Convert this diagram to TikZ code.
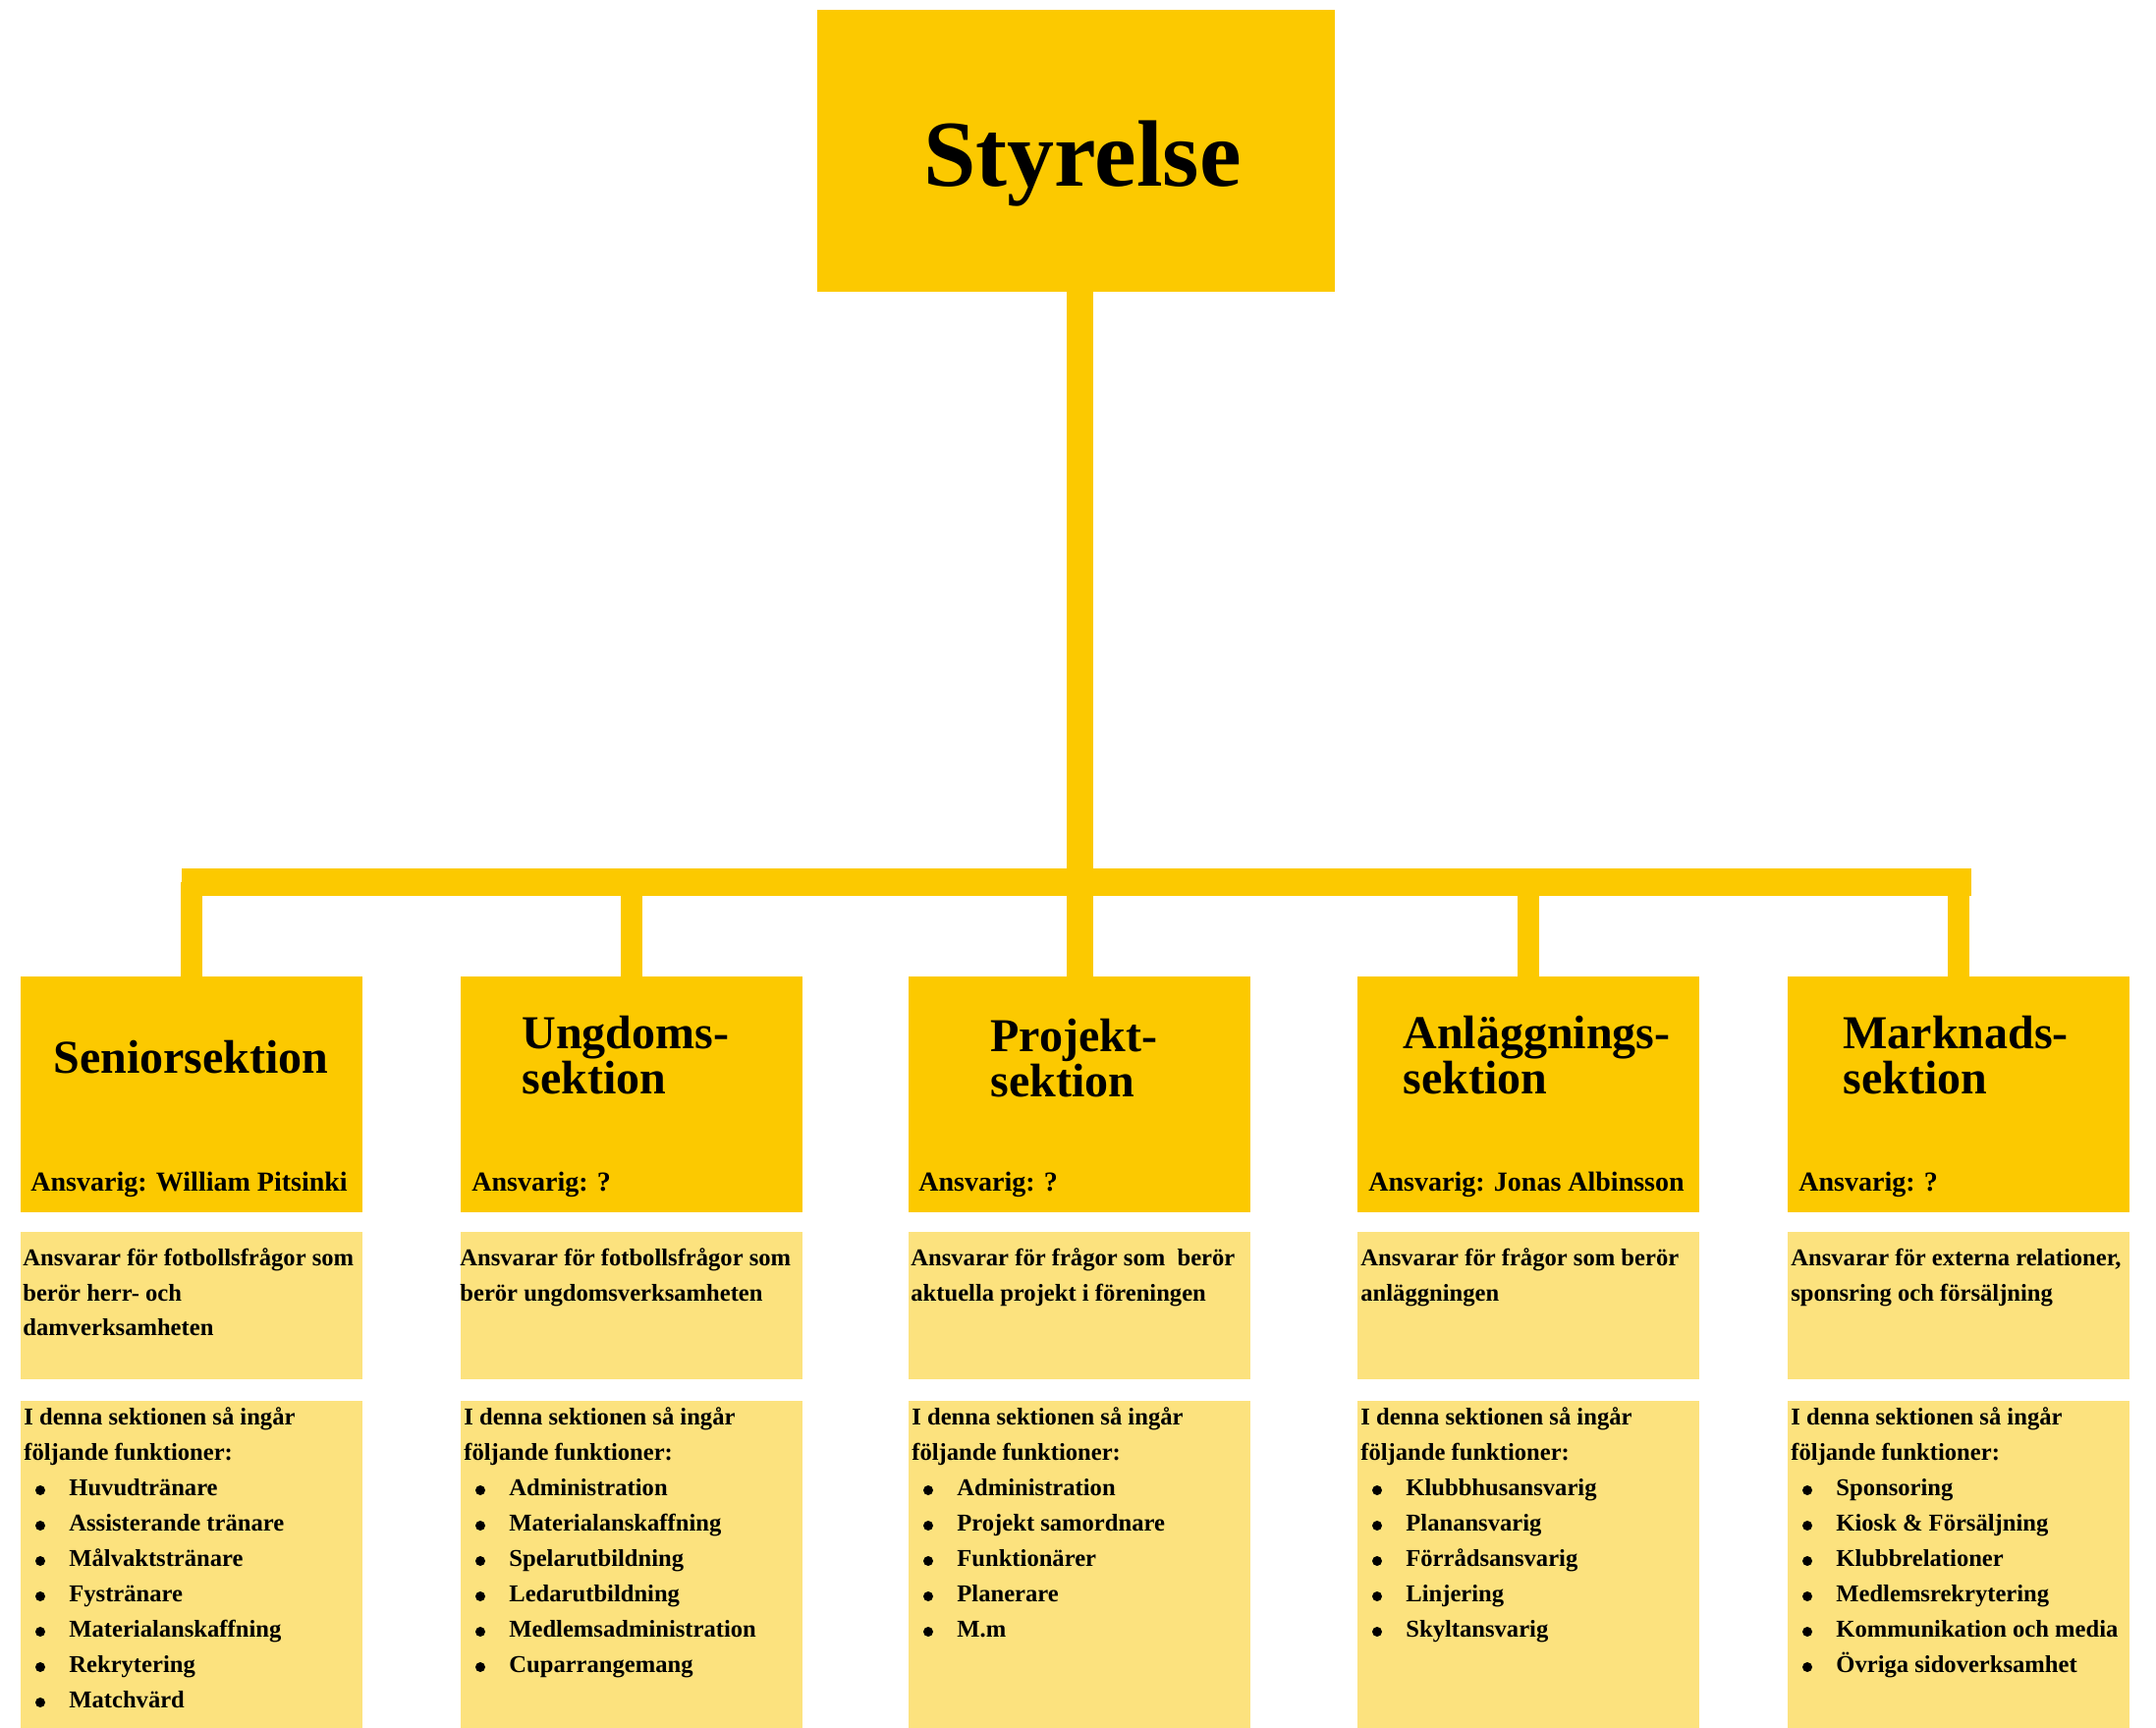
\documentclass[tikz,border=0pt]{standalone}
\usepackage{fontspec}
\setmainfont{Liberation Serif}
\definecolor{hdr}{RGB}{252,201,0}
\definecolor{lgt}{RGB}{252,226,126}
\begin{document}
\begin{tikzpicture}[x=0.5pt,y=-0.5pt,
  boxbase/.style={draw=none,inner sep=0pt,outer sep=0pt,anchor=north west,minimum width=174pt},
  hdrbox/.style={boxbase,fill=hdr,minimum height=120pt},
  descbox/.style={boxbase,fill=lgt,minimum height=75pt},
  listbox/.style={boxbase,fill=lgt,minimum height=166.5pt},
  topbox/.style={draw=none,fill=hdr,inner sep=0pt,outer sep=0pt,anchor=north west,minimum width=263.5pt,minimum height=143.5pt},
  toptxt/.style={anchor=base west,inner sep=0pt,font=\fontsize{48}{52}\selectfont\bfseries},
  ttl/.style={anchor=base west,inner sep=0pt,font=\fontsize{24}{23}\selectfont\bfseries},
  ans/.style={anchor=base west,inner sep=0pt,font=\fontsize{14}{16}\selectfont\bfseries},
  txt/.style={anchor=base west,inner sep=0pt,font=\fontsize{12.3}{18}\selectfont\bfseries},
  dot/.style={circle,fill=black,draw=none,inner sep=0pt,minimum size=5pt},
  barline/.style={draw=hdr,line width=14pt,line cap=butt},
  stemline/.style={draw=hdr,line width=13.5pt,line cap=butt},
  dropline/.style={draw=hdr,line width=11pt,line cap=butt}]
\fill[white] (0,0) rectangle (2195,1759);
\useasboundingbox (0,0) rectangle (2195,1759);

% top box
\node[topbox] (sty) at (832,10) {};
\node[toptxt] (stytxt) at (940,190) {Styrelse};

% section boxes
\foreach \i/\L in {1/21,2/469,3/925,4/1382,5/1820}{
  \node[hdrbox] (s\i) at (\L,994) {};
  \node[descbox] (d\i) at (\L,1254) {};
  \node[listbox] (l\i) at (\L,1426) {};
}

% connectors
\coordinate (barL) at (185,898);
\coordinate (barR) at (2007,898);
\draw[barline] (barL) -- (barR);
\draw[stemline] (s3.north |- sty.south) -- (s3.north);
\foreach \i in {1,2,4,5}{
  \draw[dropline] (s\i.north) -- (s\i.north |- barL);
}

% titles
\node[ttl] (t1) at (54,1092) {Seniorsektion};
\node[ttl] (t2a) at (531,1067) {Ungdoms-};
\node[ttl] (t2b) at (531,1113) {sektion};
\node[ttl] (t3a) at (1008,1070) {Projekt-};
\node[ttl] (t3b) at (1008,1116) {sektion};
\node[ttl] (t4a) at (1428,1067) {Anläggnings-};
\node[ttl] (t4b) at (1428,1113) {sektion};
\node[ttl] (t5a) at (1876,1067) {Marknads-};
\node[ttl] (t5b) at (1876,1113) {sektion};

% responsible
\node[ans] (a1) at (31,1212) {Ansvarig: William Pitsinki};
\node[ans] (a2) at (480,1212) {Ansvarig: ?};
\node[ans] (a3) at (935,1212) {Ansvarig: ?};
\node[ans] (a4) at (1393,1212) {Ansvarig: Jonas Albinsson};
\node[ans] (a5) at (1831,1212) {Ansvarig: ?};

% descriptions
\node[txt] (e1a) at (23,1288) {Ansvarar för fotbollsfrågor som};
\node[txt] (e1b) at (23,1324) {berör herr- och};
\node[txt] (e1c) at (23,1359) {damverksamheten};
\node[txt] (e2a) at (468,1288) {Ansvarar för fotbollsfrågor som};
\node[txt] (e2b) at (468,1324) {berör ungdomsverksamheten};
\node[txt] (e3a) at (927,1288) {Ansvarar för frågor som~ berör};
\node[txt] (e3b) at (927,1324) {aktuella projekt i föreningen};
\node[txt] (e4a) at (1385,1288) {Ansvarar för frågor som berör};
\node[txt] (e4b) at (1385,1324) {anläggningen};
\node[txt] (e5a) at (1823,1288) {Ansvarar för externa relationer,};
\node[txt] (e5b) at (1823,1324) {sponsring och försäljning};

% list intros
\foreach \i/\L in {1/21,2/469,3/925,4/1382,5/1820}{
  \node[txt] (li\i a) at (\L+3,1450) {I denna sektionen så ingår};
  \node[txt] (li\i b) at (\L+3,1486) {följande funktioner:};
}

% list items
\foreach \i/\L/\items in {
  1/21/{Huvudtränare,Assisterande tränare,Målvaktstränare,Fystränare,Materialanskaffning,Rekrytering,Matchvärd},
  2/469/{Administration,Materialanskaffning,Spelarutbildning,Ledarutbildning,Medlemsadministration,Cuparrangemang},
  3/925/{Administration,Projekt samordnare,Funktionärer,Planerare,M.m},
  4/1382/{Klubbhusansvarig,Planansvarig,Förrådsansvarig,Linjering,Skyltansvarig},
  5/1820/{Sponsoring,Kiosk \& Försäljning,Klubbrelationer,Medlemsrekrytering,Kommunikation och media,Övriga sidoverksamhet}}{
  \foreach \it [count=\k] in \items {
    \node[dot] (b\i-\k) at (\L+20,1481+36*\k) {};
    \node[txt] (it\i-\k) at (\L+49,1486+36*\k) {\it};
  }
}
\end{tikzpicture}
\end{document}
